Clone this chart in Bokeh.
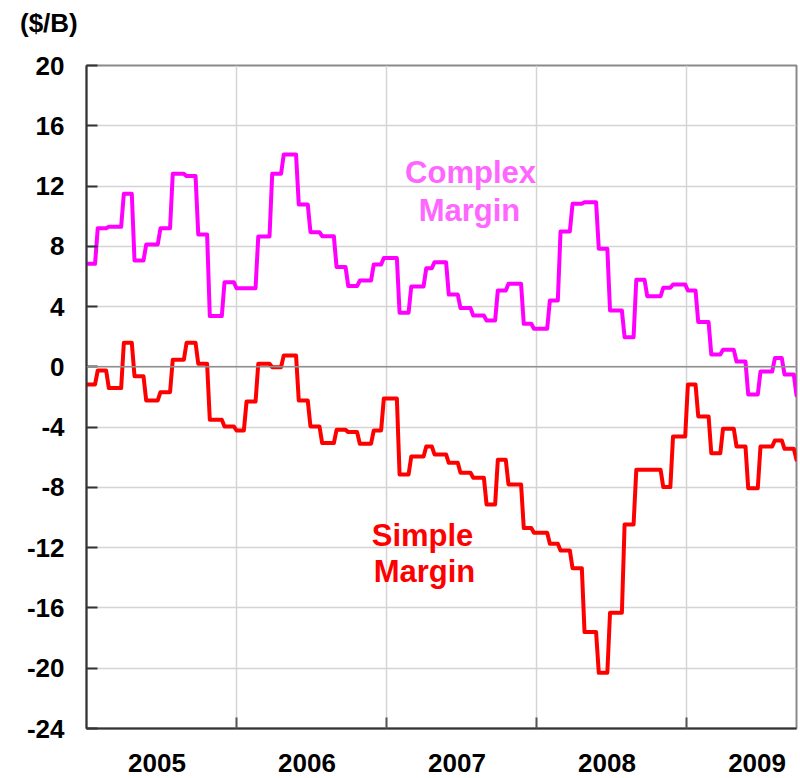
from bokeh.plotting import figure
from bokeh.models import Range1d, FixedTicker, Span, Label, Div
from bokeh.layouts import column
from bokeh.embed import file_html
from bokeh.resources import INLINE

# ---- data (decimal year at which each monthly level begins) ----
seg_start = [2005.000, 2005.075, 2005.149, 2005.249, 2005.320, 2005.398, 2005.493, 2005.575, 2005.667, 2005.745, 2005.822, 2005.920,
             2006.000, 2006.067, 2006.145, 2006.238, 2006.315, 2006.415, 2006.493, 2006.571, 2006.667, 2006.745, 2006.822, 2006.915, 2006.982,
             2007.087, 2007.165, 2007.265, 2007.320, 2007.415, 2007.493, 2007.578, 2007.667, 2007.742, 2007.813, 2007.915, 2007.983,
             2008.089, 2008.160, 2008.240, 2008.320, 2008.415, 2008.490, 2008.587, 2008.665, 2008.738, 2008.845, 2008.910,
             2009.009, 2009.078, 2009.165, 2009.243, 2009.333, 2009.411, 2009.493, 2009.589, 2009.653, 2009.733]

complex_margin = [6.84, 9.2, 9.3, 11.49, 7.06, 8.12, 9.2, 12.81, 12.66, 8.79, 3.37, 5.62,
                  5.22, 5.22, 8.65, 12.81, 14.09, 10.78, 8.94, 8.67, 6.62, 5.36, 5.73, 6.8, 7.22,
                  3.59, 5.34, 6.55, 6.95, 4.8, 3.9, 3.41, 3.08, 5.07, 5.51, 2.86, 2.53,
                  4.41, 8.98, 10.82, 10.93, 7.84, 3.74, 1.97, 5.78, 4.69, 5.25, 5.47,
                  5.07, 2.97, 0.82, 1.13, 0.36, -1.83, -0.31, 0.58, -0.5, -1.9]

simple_margin = [-1.17, -0.24, -1.41, 1.6, -0.62, -2.23, -1.68, 0.47, 1.6, 0.2, -3.51, -3.95,
                 -4.22, -2.3, 0.2, -0.02, 0.76, -2.23, -3.95, -5.06, -4.18, -4.33, -5.1, -4.22, -2.1,
                 -7.14, -5.95, -5.28, -5.81, -6.37, -7.03, -7.36, -9.13, -6.17, -7.8, -10.7, -11.01,
                 -11.74, -12.18, -13.36, -17.6, -20.3, -16.32, -10.46, -6.83, -6.83, -7.98, -4.62,
                 -1.17, -3.29, -5.73, -4.11, -5.28, -8.05, -5.28, -4.88, -5.44, -6.17]

years = [2005, 2006, 2007, 2008, 2009]
y_ticks = [-24, -20, -16, -12, -8, -4, 0, 4, 8, 12, 16, 20]
unit_label = "($/B)"
x_start, x_end = 2005.0, 2009.733
gap = 0.018

FONT = "Liberation Sans"


def build(starts, vals, end):
    xs, ys = [], []
    for i, v in enumerate(vals):
        s = starts[i]
        e = starts[i + 1] - gap if i + 1 < len(starts) else end + 0.02
        xs += [s, e]
        ys += [v, v]
    return xs, ys


p = figure(frame_width=710, frame_height=663,
           min_border_left=86, min_border_right=4, min_border_top=27, min_border_bottom=50,
           x_range=Range1d(x_start, x_end), y_range=Range1d(-24, 20),
           output_backend="svg", toolbar_location=None,
           background_fill_color="white", border_fill_color="white")
p.outline_line_color = "#8a8a8a"
p.outline_line_width = 2

# grids
p.xgrid.ticker = FixedTicker(ticks=years[1:])
p.ygrid.ticker = FixedTicker(ticks=y_ticks)
for g in (p.xgrid, p.ygrid):
    g.grid_line_color = "#d4d4d4"
    g.grid_line_width = 1.5
p.add_layout(Span(location=0, dimension="width", line_color="#8f8f8f", line_width=1.5))

# y axis
ya = p.yaxis[0]
ya.ticker = FixedTicker(ticks=y_ticks)
ya.major_label_overrides = {t: str(t) for t in y_ticks}
ya.major_tick_in = 11
ya.major_tick_out = 0
ya.minor_tick_line_color = None
ya.major_label_standoff = 22
ya.axis_line_color = "#333333"
ya.axis_line_width = 2
ya.major_tick_line_color = "#333333"
ya.major_tick_line_width = 2

# x axis: labels mid-year, tick marks at year boundaries
xa = p.xaxis[0]
lab_pos = [y + 0.47 for y in years]
xa.ticker = FixedTicker(ticks=lab_pos, minor_ticks=years[1:])
xa.major_label_overrides = {lp: str(y) for lp, y in zip(lab_pos, years)}
xa.major_tick_line_color = None
xa.major_tick_in = 0
xa.major_tick_out = 0
xa.minor_tick_in = 11
xa.minor_tick_out = 0
xa.minor_tick_line_color = "#555555"
xa.minor_tick_line_width = 2
xa.major_label_standoff = 25
xa.axis_line_color = "#333333"
xa.axis_line_width = 2

for ax in (xa, ya):
    ax.major_label_text_font = FONT
    ax.major_label_text_font_style = "bold"
    ax.major_label_text_font_size = "26px"
    ax.major_label_text_color = "black"

# series
cx, cy = build(seg_start, complex_margin, x_end)
sx, sy = build(seg_start, simple_margin, x_end)
p.line(cx, cy, line_color="#ff00ff", line_width=4, line_join="round")
p.line(sx, sy, line_color="#ff0000", line_width=4, line_join="round")

# annotations
def lab(x, y, t, color, size="31px", align="center"):
    p.add_layout(Label(x=x, y=y, text=t, text_font=FONT, text_font_style="bold",
                       text_font_size=size, text_color=color,
                       text_align=align, text_baseline="alphabetic"))

lab(2007.56, 12.9, "Complex", "#ff66ff")
lab(2007.553, 10.4, "Margin", "#ff66ff")
lab(2007.24, -11.17, "Simple", "#ff0000")
lab(2007.253, -13.6, "Margin", "#ff0000")

# unit label above the plot, top-left
div = Div(text=unit_label, width=120, height=28, margin=(10, 0, 0, 20),
          styles={"font-family": FONT, "font-weight": "bold", "font-size": "26px",
                  "line-height": "26px", "color": "black", "white-space": "nowrap"})

layout = column(div, p, spacing=0)
open("out.html", "w").write(file_html(layout, INLINE))
